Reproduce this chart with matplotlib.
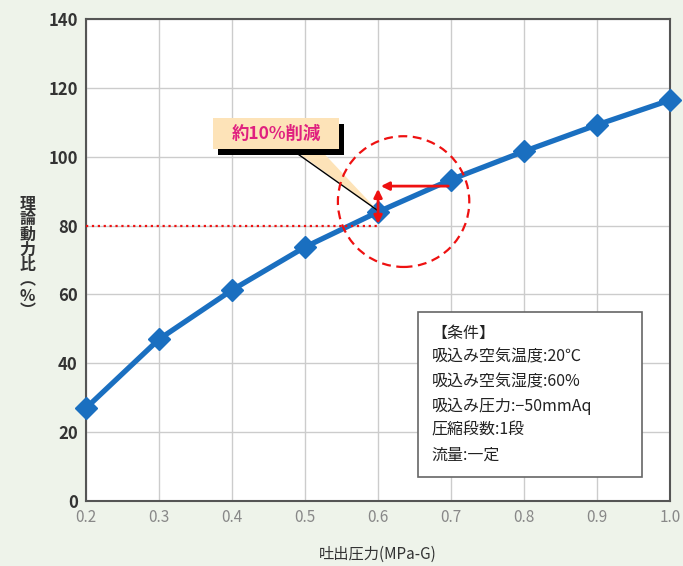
import matplotlib.pyplot as plt
from matplotlib.patches import Ellipse, Polygon, Rectangle

plt.rcParams['font.family'] = ['Noto Sans CJK JP', 'DejaVu Sans']

# data
pressure = [0.2, 0.3, 0.4, 0.5, 0.6, 0.7, 0.8, 0.9, 1.0]
power_ratio = [27, 47, 61.3, 73.8, 84, 93.4, 101.6, 109.3, 116.5]
x_ticks = [0.2, 0.3, 0.4, 0.5, 0.6, 0.7, 0.8, 0.9, 1.0]
y_ticks = [0, 20, 40, 60, 80, 100, 120, 140]
conditions = ['【条件】', '吸込み空気温度:20℃', '吸込み空気湿度:60%',
              '吸込み圧力:−50mmAq', '圧縮段数:1段', '流量:一定']

bg = '#eef3ea'
fig = plt.figure(figsize=(6.83, 5.66), dpi=100, facecolor=bg)
ax = fig.add_axes([0.126, 0.115, 0.855, 0.851])
ax.set_facecolor('white')

ax.plot(pressure, power_ratio, color='#1a6fc0', lw=3.8, marker='D', ms=11,
        mec='#1a6fc0', zorder=5, clip_on=False)

ax.set_xlim(0.2, 1.0)
ax.set_ylim(0, 140)
ax.set_xticks(x_ticks)
ax.set_xticklabels([f'{v:.1f}' for v in x_ticks], color='#888888', fontsize=11)
ax.set_yticks(y_ticks)
ax.set_yticklabels([str(v) for v in y_ticks], color='#333333', fontsize=12,
                   fontweight='bold')
ax.tick_params(length=0, pad=6)
ax.grid(color='#cccccc', lw=1)
for s in ax.spines.values():
    s.set_color('#555555')
    s.set_linewidth(1.5)

ax.set_xlabel('吐出圧力(MPa-G)', fontsize=11, color='#333333', labelpad=14)
fig.text(0.04, 0.545, '理\n論\n動\n力\n比\n︵\n%\n︶', fontsize=11.5,
         color='#333333', fontweight='bold', ha='center', va='center',
         linespacing=0.95)

# 10% reduction annotation
ax.plot([0.2, 0.6], [80, 80], color='#ee1111', lw=1.6, ls=':', zorder=6)
ax.annotate('', xy=(0.6, 91.5), xytext=(0.6, 79.7),
            arrowprops=dict(arrowstyle='<|-|>', color='#ee1111', lw=2,
                            mutation_scale=12), zorder=7)
ax.annotate('', xy=(0.6, 91.5), xytext=(0.7, 91.5),
            arrowprops=dict(arrowstyle='-|>', color='#ee1111', lw=2,
                            mutation_scale=12), zorder=7)
ax.add_patch(Ellipse((0.635, 87), 0.18, 38, fill=False, ec='#ee1111', lw=1.6,
                     ls=(0, (4, 2.5)), zorder=7))

# callout
ax.add_patch(Polygon([(0.479, 103), (0.517, 103), (0.599, 84.5)], closed=True,
                     fc='#fde3b8', ec='none', zorder=6))
ax.plot([0.479, 0.599], [102.5, 84.5], color='black', lw=1, zorder=6)
ax.add_patch(Rectangle((0.381, 100.5), 0.173, 9, fc='black', ec='none', zorder=7))
ax.add_patch(Rectangle((0.374, 102.2), 0.173, 9, fc='#fde3b8', ec='none', zorder=8))
ax.text(0.46, 106.7, '約10%削減', color='#e0207f', fontsize=12.5,
        fontweight='bold', ha='center', va='center', zorder=9)

# conditions box
ax.add_patch(Rectangle((0.655, 7), 0.307, 47.9, fc='white', ec='#666666',
                       lw=1.2, zorder=8))
for i, line in enumerate(conditions):
    ax.text(0.673, 48.8 - i * 7.08, line, fontsize=11.5, color='#222222',
            va='center', zorder=9)

fig.savefig('out.png', dpi=100, facecolor=bg)
